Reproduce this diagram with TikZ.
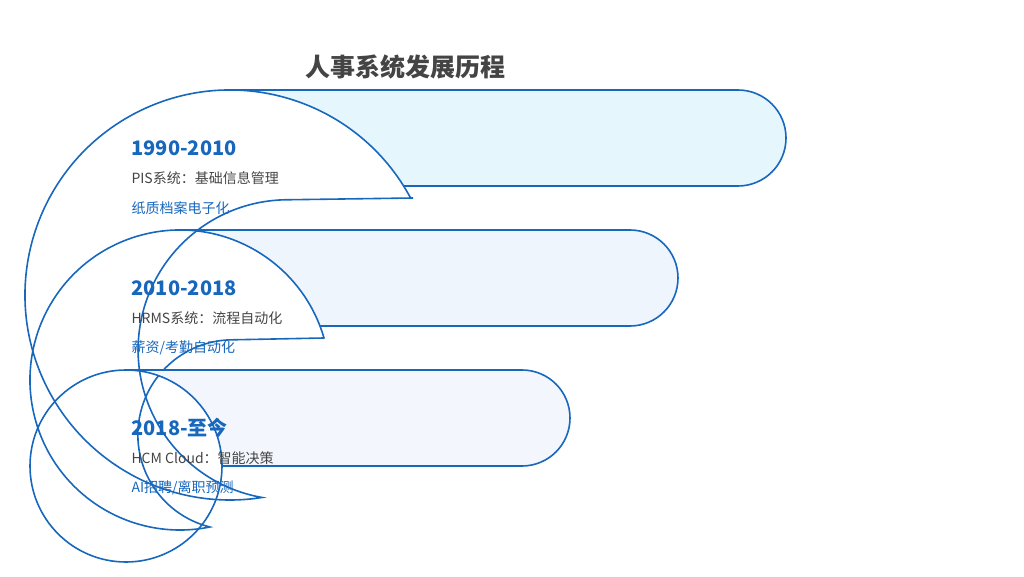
\documentclass[tikz,border=0pt]{standalone}
\usepackage{fontspec}
\setmainfont{Noto Sans CJK SC}
\definecolor{ln}{HTML}{1767BD}
\definecolor{fa}{HTML}{E6F6FD}
\definecolor{fb}{HTML}{EEF5FD}
\definecolor{fc}{HTML}{F3F7FD}
\definecolor{tg}{HTML}{444444}
\begin{document}
\begin{tikzpicture}[x=1pt,y=1pt,
  edge/.style={draw=ln,line width=1.6pt},
  yr/.style={anchor=west,text=ln,font=\fontsize{20}{22}\selectfont\bfseries},
  sub/.style={anchor=west,text=tg,font=\fontsize{14}{16}\selectfont},
  tag/.style={anchor=west,text=ln,font=\fontsize{14}{16}\selectfont}]
\useasboundingbox (0,0) rectangle (1024,576);
\coordinate (c1) at (230,281);
\coordinate (c2) at (180,196);
\coordinate (c3) at (126,110);
% band 1
\fill[fa] (230,486) -- (738,486) arc[start angle=90,end angle=-90,radius=48] -- (403.6,390) arc[start angle=32,end angle=90,radius=205] -- cycle;
\draw[edge] (230,486) -- (738,486) arc[start angle=90,end angle=-90,radius=48] -- (403.6,390);
\draw[edge] (c1) ++(28:205) arc[start angle=28,end angle=279,radius=205]
  arc[start angle=260,end angle=90,radius=150] -- (413,378);
% band 2
\fill[fb] (180,346) -- (630,346) arc[start angle=90,end angle=-90,radius=48] -- (320,250) arc[start angle=21,end angle=90,radius=150] -- cycle;
\draw[edge] (180,346) -- (630,346) arc[start angle=90,end angle=-90,radius=48] -- (320,250);
\draw[edge] (c2) ++(16:150) arc[start angle=16,end angle=281.5,radius=150]
  arc[start angle=256,end angle=90,radius=95] -- (324,238);
% band 3
\fill[fc] (126,206) -- (522,206) arc[start angle=90,end angle=-90,radius=48] -- (222,110) arc[start angle=0,end angle=90,radius=96] -- cycle;
\draw[edge] (126,206) -- (522,206) arc[start angle=90,end angle=-90,radius=48] -- (222,110);
\draw[edge] (c3) circle[radius=96];
% texts
\node[text=tg,font=\fontsize{25}{28}\selectfont\bfseries] (title) at (405,509) {人事系统发展历程};
\node[yr] (y1) at (128,428) {1990-2010};
\node[sub] (s1) at (128,398) {PIS系统：基础信息管理};
\node[tag] (t1) at (128,368) {纸质档案电子化};
\node[yr] (y2) at (128,288) {2010-2018};
\node[sub] (s2) at (128,258) {HRMS系统：流程自动化};
\node[tag] (t2) at (128,228) {薪资/考勤自动化};
\node[yr] (y3) at (128,148) {2018-至今};
\node[sub] (s3) at (128,118) {HCM Cloud：智能决策};
\node[tag] (t3) at (128,88) {AI招聘/离职预测};
\end{tikzpicture}
\end{document}
